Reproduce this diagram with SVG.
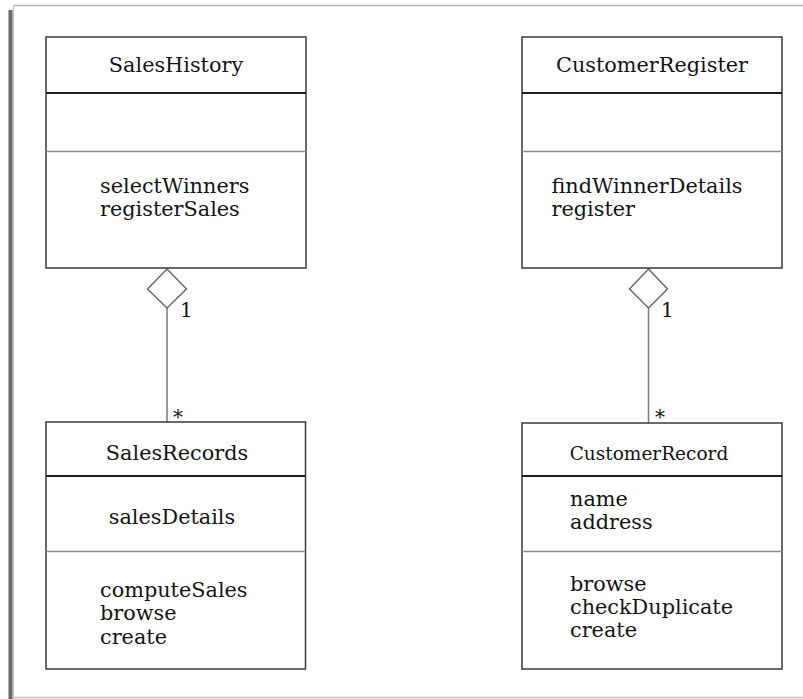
<svg xmlns="http://www.w3.org/2000/svg" width="803" height="699" viewBox="0 0 803 699">
<style>
.box{fill:#fff;stroke:#3a3a3a;stroke-width:1.5}
.d1{stroke:#1e1e1e;stroke-width:1.8}
.d2{stroke:#8a8a8a;stroke-width:1.6}
.t{font-family:"DejaVu Serif","Liberation Serif",serif;font-size:20.8px;fill:#141414}
.c{text-anchor:middle}
.conn{stroke:#7a7a7a;stroke-width:1.5;fill:none}
.dia{stroke:#6a6a6a;stroke-width:1.5;fill:#fff}
.m{font-family:"DejaVu Serif","Liberation Serif",serif;font-size:20px;fill:#141414}
</style>
<rect width="803" height="699" fill="#fff"/>
<g id="frame">
<line x1="13" y1="5.5" x2="803" y2="5.5" stroke="#b4b4b4" stroke-width="1.6"/>
<line x1="13.5" y1="5" x2="13.5" y2="699" stroke="#c0c0c0" stroke-width="1.2"/>
<rect x="8.5" y="10" width="4" height="689" fill="#6a6a6a"/>
<line x1="13" y1="697.5" x2="803" y2="697.5" stroke="#c4c4c4" stroke-width="1.4"/>
</g>
<g id="connectors">
<line class="conn" x1="167" y1="307" x2="167" y2="422"/>
<polygon class="dia" points="167,269 186.5,289 167,308 147.5,289"/>
<text class="m" x="180" y="317">1</text>
<text class="m" x="173" y="424">*</text>
<line class="conn" x1="648.5" y1="307" x2="648.5" y2="423"/>
<polygon class="dia" points="648.5,269 667.5,289 648.5,308 629.5,289"/>
<text class="m" x="661" y="317">1</text>
<text class="m" x="655" y="424">*</text>
</g>
<g id="SalesHistory">
<rect class="box" x="46" y="37" width="260" height="231"/>
<line class="d1" x1="46" y1="93" x2="306" y2="93"/>
<line class="d2" x1="46" y1="151.5" x2="306" y2="151.5"/>
<text class="t c" x="176" y="72">SalesHistory</text>
<text class="t" x="100" y="193">selectWinners</text>
<text class="t" x="100" y="215.5">registerSales</text>
</g>
<g id="CustomerRegister">
<rect class="box" x="522" y="37" width="260" height="231"/>
<line class="d1" x1="522" y1="93" x2="782" y2="93"/>
<line class="d2" x1="522" y1="151.5" x2="782" y2="151.5"/>
<text class="t c" x="652" y="72">CustomerRegister</text>
<text class="t" x="551.5" y="193">findWinnerDetails</text>
<text class="t" x="551.5" y="215.5">register</text>
</g>
<g id="SalesRecords">
<rect class="box" x="46" y="422" width="259.5" height="247"/>
<line class="d1" x1="46" y1="476" x2="305.5" y2="476"/>
<line class="d2" x1="46" y1="551.5" x2="305.5" y2="551.5"/>
<text class="t c" x="177" y="460">SalesRecords</text>
<text class="t c" x="172" y="524">salesDetails</text>
<text class="t" x="100" y="597">computeSales</text>
<text class="t" x="100" y="620">browse</text>
<text class="t" x="100" y="643.5">create</text>
</g>
<g id="CustomerRecord">
<rect class="box" x="522" y="423" width="260" height="246"/>
<line class="d1" x1="522" y1="476" x2="782" y2="476"/>
<line class="d2" x1="522" y1="551.5" x2="782" y2="551.5"/>
<text class="t c" x="649" y="460" style="font-size:18.5px">CustomerRecord</text>
<text class="t" x="570" y="506">name</text>
<text class="t" x="570" y="528.5">address</text>
<text class="t" x="570" y="590.5">browse</text>
<text class="t" x="570" y="613.5">checkDuplicate</text>
<text class="t" x="570" y="637">create</text>
</g>
</svg>
